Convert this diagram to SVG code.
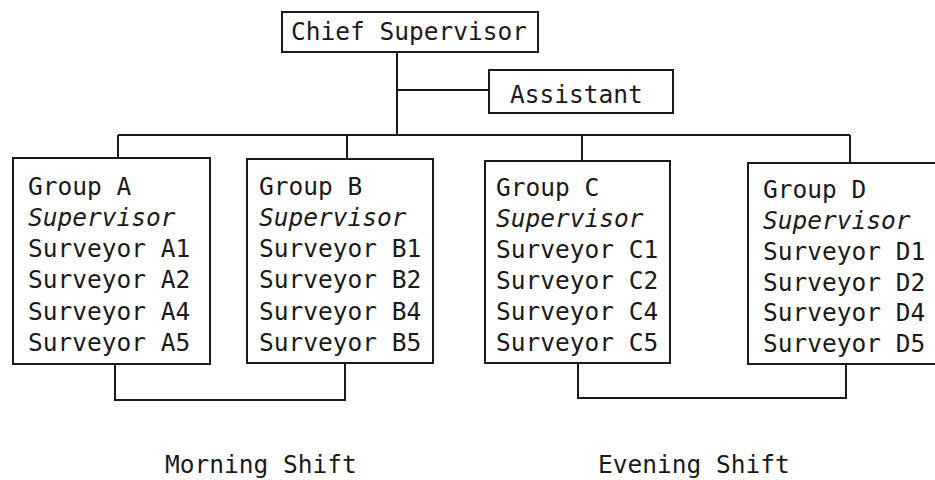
<svg xmlns="http://www.w3.org/2000/svg" width="935" height="480" viewBox="0 0 935 480">
<style>
.box{fill:#fff;stroke:#1a1a1a;stroke-width:2}
.ln{fill:none;stroke:#1a1a1a;stroke-width:2}
text{font-family:"DejaVu Sans Mono","Liberation Mono",monospace;font-size:24.5px;fill:#1a1a1a}
.it{font-style:italic}
</style>
<rect width="935" height="480" fill="#fff"/>
<g id="connectors">
<path class="ln" d="M397 52V135M397 90H489M118 135H850M118 135V158M347 135V159M582 135V161M850 135V163"/>
<path class="ln" d="M115 364V400H345V363"/>
<path class="ln" d="M578 363V398H846V364"/>
</g>
<g id="chief">
<rect class="box" x="282" y="12" width="256" height="40"/>
<text x="291" y="40">Chief Supervisor</text>
</g>
<g id="assistant">
<rect class="box" x="489" y="70" width="184" height="43"/>
<text x="510" y="103">Assistant</text>
</g>
<g id="groupA">
<rect class="box" x="13" y="158" width="197" height="206"/>
<text x="28" y="195">Group A</text>
<text class="it" x="28" y="226">Supervisor</text>
<text x="28" y="257">Surveyor A1</text>
<text x="28" y="288">Surveyor A2</text>
<text x="28" y="320">Surveyor A4</text>
<text x="28" y="351">Surveyor A5</text>
</g>
<g id="groupB">
<rect class="box" x="247" y="159" width="186" height="204"/>
<text x="259" y="195">Group B</text>
<text class="it" x="259" y="226">Supervisor</text>
<text x="259" y="257">Surveyor B1</text>
<text x="259" y="288">Surveyor B2</text>
<text x="259" y="320">Surveyor B4</text>
<text x="259" y="351">Surveyor B5</text>
</g>
<g id="groupC">
<rect class="box" x="485" y="161" width="185" height="202"/>
<text x="496" y="196">Group C</text>
<text class="it" x="496" y="227">Supervisor</text>
<text x="496" y="258">Surveyor C1</text>
<text x="496" y="289">Surveyor C2</text>
<text x="496" y="320">Surveyor C4</text>
<text x="496" y="351">Surveyor C5</text>
</g>
<g id="groupD">
<rect class="box" x="748" y="163" width="192" height="201"/>
<text x="763" y="198">Group D</text>
<text class="it" x="763" y="229">Supervisor</text>
<text x="763" y="260">Surveyor D1</text>
<text x="763" y="291">Surveyor D2</text>
<text x="763" y="321">Surveyor D4</text>
<text x="763" y="352">Surveyor D5</text>
</g>
<g id="labels">
<text x="165" y="473">Morning Shift</text>
<text x="598" y="473">Evening Shift</text>
</g>
</svg>
